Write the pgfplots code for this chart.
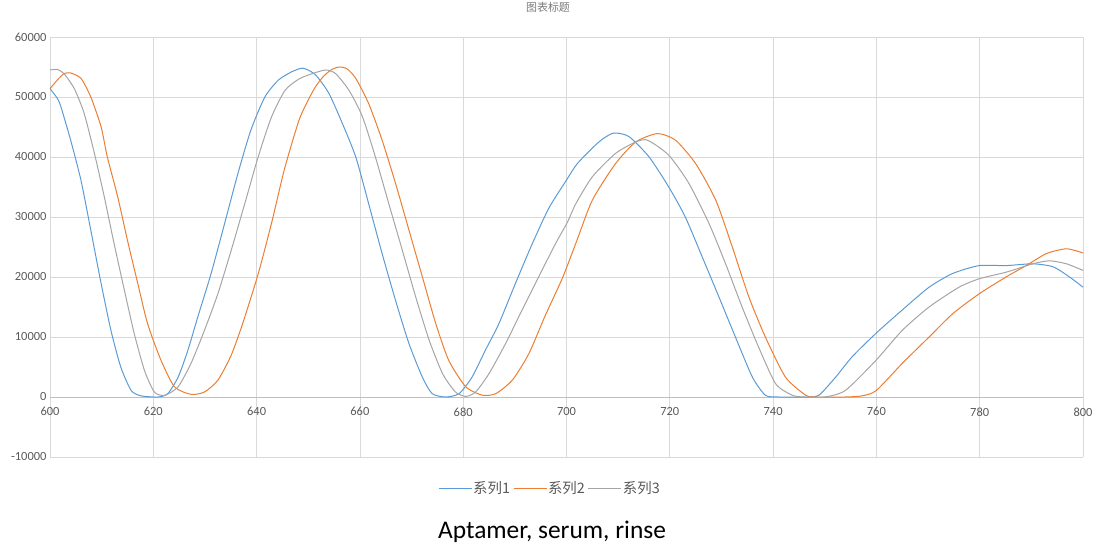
\documentclass[border=0pt]{standalone}
\usepackage{fontspec}
\setmainfont{Carlito}
\newfontfamily\cjk{Noto Sans CJK SC}
\usepackage{pgfplots}
\pgfplotsset{compat=1.18}
\definecolor{s1}{HTML}{5B9BD5}
\definecolor{s2}{HTML}{ED7D31}
\definecolor{s3}{HTML}{A5A5A5}
\definecolor{gridc}{HTML}{D9D9D9}
\definecolor{zline}{HTML}{BFBFBF}
\definecolor{txt}{HTML}{595959}
\begin{document}
\begin{tikzpicture}
\clip (0,0) rectangle (1094bp,548bp);
\useasboundingbox (0,0) rectangle (1094bp,548bp);
\begin{axis}[at={(50bp,91bp)}, anchor=south west, scale only axis,
  width=1033bp, height=420bp,
  xmin=600, xmax=800, ymin=-10000, ymax=60000,
  xtick={600,620,...,800}, ytick={-10000,0,...,60000},
  axis x line=middle, axis y line=left,
  x axis line style={draw=zline,-, line width=0.8bp},
  y axis line style={draw=none},
  hide obscured x ticks=false, hide obscured y ticks=false,
  major tick length=0pt,
  grid=major, grid style={gridc, line width=0.7bp},
  scaled y ticks=false, scaled x ticks=false,
  /pgf/number format/assume math mode=true,
  yticklabel style={/pgf/number format/.cd, fixed, 1000 sep={}},
  xticklabel style={yshift=-7bp},
  ticklabel style={font=\fontsize{12.5}{14}\selectfont, text=txt},
  clip=false,
  legend style={at={(0.484,-0.074)}, anchor=center, legend columns=3, draw=none, fill=none,
    font=\cjk\fontsize{14.5}{16}\selectfont, text=txt,
    /tikz/every even column/.append style={column sep=1bp},
    /tikz/every odd column/.append style={column sep=-1bp}},
  legend image code/.code={\draw[#1, line width=1bp] (0bp,0bp) -- (33bp,0bp);},
  every axis plot/.append style={line width=1bp, smooth, tension=0.4, no markers},
]
\addplot[s1] coordinates {
(600,51400)(601.4,49800)(602.1,48400)(604,42800)(606,36100)(607.9,27800)(609.9,18900)
(611.8,11100)(613.7,5000)(615.7,1100)(617.6,200)(620.9,0)(622.8,560)(624.8,3300)
(626.7,7800)(628.6,13300)(631.2,20600)(633.8,28900)(636.4,37300)(638.9,44500)
(641.6,50000)(644.2,52800)(646.8,54200)(649,54800)(651.4,53700)(654,50600)(656.6,45600)
(659.2,40000)(661.7,32200)(664.3,23900)(666.9,16100)(669.5,8900)(672.1,3300)(674,560)
(676.6,0)(679.2,560)(681.7,3300)(684.3,7800)(686.9,12200)(690.1,18900)(693.4,25600)
(696.6,31500)(700.1,36300)(702,38800)(705,41500)(707,43000)(709.2,44000)(712.1,43400)
(716,40000)(719.8,35000)(723,30000)(726.3,23300)(729.5,16700)(732.7,10000)(736,3300)
(738.5,300)(741,0)(747,0)(748.9,300)(752.1,3300)(755.3,6700)(759.9,10600)(765,14500)
(770.2,18300)(774.8,20600)(779.9,21900)(785.1,21900)(790.3,22200)(794.2,21700)
(797.4,20000)(800,18300)
};
\addlegendentry{系列1}
\addplot[s2] coordinates {
(600,51400)(601.4,52800)(602.7,53900)(604,54000)(606,53100)(607.9,50000)(609.9,45000)
(611.1,40000)(613.1,33400)(615,26100)(617,18900)(618.9,12200)(621.5,6100)(624.1,1700)
(627.3,440)(629.9,830)(632.5,2800)(635.1,7000)(637.4,12500)(640.3,20500)(642.9,29000)
(645.4,38000)(648.2,46100)(650,49500)(651.4,51700)(653,53500)(654.6,54600)(656,55000)
(657.5,54700)(659.2,53100)(661.7,48900)(664.3,42800)(666.9,35600)(669.5,27800)
(672.1,20000)(674.7,12200)(677.2,6100)(680.5,1700)(683.7,300)(686.3,560)(689.5,2800)
(692.7,7200)(695.9,13600)(699.2,19800)(701.8,25600)(705,32800)(709.5,38900)(713.4,42500)
(717.6,43900)(721.1,42800)(725,38900)(728.9,32800)(732.1,25000)(735.3,16700)(738.5,10000)
(742.4,3300)(746.3,300)(748,0)(754,0)(757.3,200)(760,1100)(765,5600)(770.2,10000)
(774.8,13900)(779.9,17200)(785.1,20000)(789,21900)(792.9,23900)(796.8,24700)(800,24000)
};
\addlegendentry{系列2}
\addplot[s3] coordinates {
(600,54500)(601.4,54600)(602.7,53900)(604.7,51400)(606.6,47300)(608.6,40600)(610.5,33400)
(612.4,25600)(614.4,17800)(616.3,10600)(618.3,4400)(620.2,830)(622.2,280)(624.8,1700)
(627.3,5600)(629.9,11100)(632.5,17200)(635.1,24500)(637.7,32200)(640.3,40000)
(642.9,46700)(645.5,51100)(648.2,53000)(650.8,53900)(653.4,54500)(655.3,53900)
(657.9,51100)(660.5,46700)(663,40000)(665.6,32200)(668.2,24500)(670.8,16700)(673.4,9500)
(676,3900)(678.5,830)(680.5,100)(682.4,830)(685,3900)(688.2,8900)(691.4,14500)(694.6,20000)
(697.9,25600)(700.1,29000)(701.8,32200)(705,36700)(709.5,40600)(713.4,42500)(715.7,42800)
(719.8,40300)(723.7,35600)(727.6,28900)(730.8,22200)(734,15000)(737.2,8300)(740.5,2200)
(743.7,300)(746,0)(750,0)(754,1100)(759.9,6100)(765,11100)(770.2,15000)(776,18300)
(779.9,19700)(785.1,20800)(790.3,22200)(793.5,22700)(796.8,22200)(800,21100)
};
\addlegendentry{系列3}
\end{axis}
\node[font=\cjk\fontsize{11}{12}\selectfont, text=txt!80] at (548bp,541bp) {图表标题};
\node[font=\fontsize{25.5}{28}\selectfont] at (552bp,16bp) {Aptamer, serum, rinse};
\end{tikzpicture}
\end{document}
